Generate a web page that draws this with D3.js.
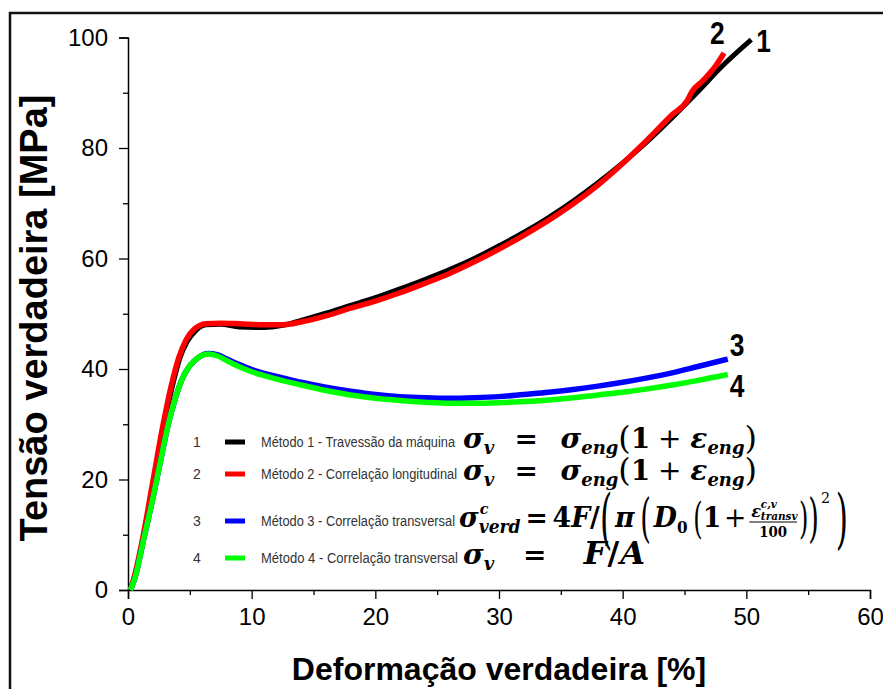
<!DOCTYPE html>
<html>
<head>
<meta charset="utf-8">
<script src="https://cdn.jsdelivr.net/npm/d3@7"></script>
<style>
  html, body { margin: 0; padding: 0; background: #fff; }
  svg { display: block; }
</style>
</head>
<body>
<svg id="chart" width="883" height="689"></svg>
<script>
// True stress–strain curves for the four measurement methods
const strain1 = [0.2,0.6,1.2,2.0,2.8,3.6,4.2,4.8,5.5,6.3,7.5,9,11,12.5,14,16,18,20,22,24,26,28,30,32,34,36,38,40,42,44,46,48,50.4];
const stress1 = [0,3,9,19,29,37,42,45,47,48,48.1,47.6,47.5,47.9,48.8,50.1,51.5,52.9,54.5,56.2,58,60,62.3,64.7,67.4,70.4,73.7,77.3,81.2,85.5,90,94.7,99.6];

const strain2 = [0.2,0.6,1.2,2.0,2.8,3.5,4.1,4.7,5.4,6.3,7.5,9,11,12.5,14,16,18,20,22,24,26,28,30,32,34,36,38,40,42,44,45.2,45.6,46.5,47.5,48.2];
const stress2 = [0,3.2,9.5,19.5,29.5,37,42,45.3,47.3,48.2,48.3,48.2,48,48,48.5,49.6,51,52.3,53.8,55.5,57.3,59.4,61.7,64.2,66.9,69.9,73.3,77.2,81.5,86,88.5,90.2,92.2,94.8,97.2];

const strain3 = [0.2,0.6,1.2,2.0,2.6,3.2,3.8,4.4,5.0,5.7,6.5,7.2,8,9,10,11,12.5,14,16,18,20,22,24,26,28,30,32,34,36,38,40,42,44,46,48.5];
const stress3 = [0,2.5,8.5,16.5,23,29.5,34.5,38.3,40.6,42.1,42.8,42.6,41.8,40.8,39.9,39.2,38.4,37.6,36.7,36,35.4,35,34.8,34.7,34.8,35,35.4,35.8,36.3,36.9,37.6,38.4,39.3,40.4,41.8];

const strain4 = [0.2,0.6,1.2,2.0,2.6,3.2,3.8,4.4,5.0,5.7,6.5,7.2,8,9,10,11,12.5,14,16,18,20,22,24,26,28,30,32,34,36,38,40,42,44,46,48.5];
const stress4 = [0,2.5,8.5,16.5,23,29.5,34.5,38.3,40.6,42.1,42.7,42.4,41.5,40.4,39.5,38.8,37.9,37.1,36.1,35.3,34.7,34.3,34,33.8,33.8,33.9,34.1,34.4,34.8,35.3,35.8,36.4,37.1,37.9,39];

const seriesIds = ["1", "2", "3", "4"];
const seriesColors = ["#000000", "#ff0000", "#0000ff", "#00ff00"];
const legendLabels = [
  "Método 1 - Travessão da máquina",
  "Método 2 - Correlação longitudinal",
  "Método 3 - Correlação transversal",
  "Método 4 - Correlação transversal"
];

const xTicks = [0, 10, 20, 30, 40, 50, 60];
const yTicks = [0, 20, 40, 60, 80, 100];
const xMinorTicks = [5, 15, 25, 35, 45, 55];
const yMinorTicks = [10, 30, 50, 70, 90];
const xTitle = "Deformação verdadeira [%]";
const yTitle = "Tensão verdadeira [MPa]";

const svg = d3.select("#chart");

// outer frame (runs off the right and bottom edges of the page)
svg.append("rect")
  .attr("x", 10).attr("y", 13).attr("width", 900).attr("height", 700)
  .attr("fill", "none").attr("stroke", "#111").attr("stroke-width", 2.5);

const x = d3.scaleLinear().domain([0, 60]).range([128, 870]);
const y = d3.scaleLinear().domain([0, 100]).range([590, 37.5]);

const sansFont = "'Liberation Sans', Arial, sans-serif";

// axes with major and minor ticks
const gx = svg.append("g").attr("transform", `translate(0,${y(0)})`);
gx.call(d3.axisBottom(x).tickValues(xTicks).tickSize(9).tickPadding(5).tickFormat(d3.format("d")));
gx.append("g").call(d3.axisBottom(x).tickValues(xMinorTicks).tickSize(5).tickFormat(""))
  .select(".domain").remove();

const gy = svg.append("g").attr("transform", `translate(${x(0)},0)`);
gy.call(d3.axisLeft(y).tickValues(yTicks).tickSize(9).tickPadding(11).tickFormat(d3.format("d")));
gy.append("g").call(d3.axisLeft(y).tickValues(yMinorTicks).tickSize(5).tickFormat(""))
  .select(".domain").remove();

svg.selectAll(".domain").attr("stroke", "#000").attr("stroke-width", 1.5);
svg.selectAll(".tick line").attr("stroke", "#000").attr("stroke-width", 1.3);
svg.selectAll(".tick text")
  .attr("font-family", sansFont).attr("font-size", 24).attr("fill", "#000");
gx.selectAll(".tick text").attr("dy", "0.88em");

// axis titles
svg.append("text")
  .attr("x", 499).attr("y", 680)
  .attr("text-anchor", "middle")
  .attr("font-family", sansFont).attr("font-weight", "bold").attr("font-size", 32)
  .text(xTitle);

svg.append("text")
  .attr("transform", `translate(47,318) rotate(-90)`)
  .attr("text-anchor", "middle")
  .attr("font-family", sansFont).attr("font-weight", "bold").attr("font-size", 38)
  .text(yTitle);

// curves
const curves = [
  strain1.map((s, i) => [s, stress1[i]]),
  strain2.map((s, i) => [s, stress2[i]]),
  strain3.map((s, i) => [s, stress3[i]]),
  strain4.map((s, i) => [s, stress4[i]])
];
const line = d3.line().x(d => x(d[0])).y(d => y(d[1])).curve(d3.curveMonotoneX);
const widths = [5, 5.5, 5.5, 5.5];
curves.forEach((c, i) => {
  svg.append("path").datum(c)
    .attr("d", line)
    .attr("fill", "none")
    .attr("stroke", seriesColors[i])
    .attr("stroke-width", widths[i])
    .attr("stroke-linejoin", "round");
});

// curve end labels
const endLabelPos = [[5, 12], [-14, -9], [2, -3], [2, 22]];
curves.forEach((c, i) => {
  const last = c[c.length - 1];
  const lx = x(last[0]) + endLabelPos[i][0], ly = y(last[1]) + endLabelPos[i][1];
  svg.append("text")
    .attr("x", lx).attr("y", ly)
    .attr("font-family", sansFont).attr("font-weight", "bold").attr("font-size", 31)
    .attr("transform-origin", `${lx} ${ly}`)
    .attr("transform", "scale(0.85,1)")
    .text(seriesIds[i]);
});

// legend
const legendRows = [442, 474, 521, 558];
const labelEnds = [455, 457, 455, 458];
const lg = svg.append("g");
legendRows.forEach((ry, i) => {
  lg.append("text").attr("x", 197).attr("y", ry + 5)
    .attr("text-anchor", "middle")
    .attr("font-family", sansFont).attr("font-size", 14).attr("fill", "#333")
    .text(seriesIds[i]);
  lg.append("rect").attr("x", 225).attr("y", ry - 2.5).attr("width", 20).attr("height", 5)
    .attr("fill", seriesColors[i]);
  lg.append("text").attr("x", 261).attr("y", ry + 5)
    .attr("font-family", sansFont).attr("font-size", 14).attr("fill", "#333")
    .attr("textLength", labelEnds[i] - 261).attr("lengthAdjust", "spacingAndGlyphs")
    .text(legendLabels[i]);
});

// formula typesetting: lays pieces left to right inside g (baseline at 0);
// "flex" gaps share whatever room is left to reach the wanted width
const mathFont = "'DejaVu Serif', 'Liberation Serif', serif";
const M = 28;   // main formula size
function typeset(g, pieces, extra) {
  let cx = 0;
  pieces.forEach(p => {
    if (p.gap !== undefined) { cx += p.gap + (p.flex ? extra * p.flex : 0); return; }
    if (p.draw) { cx = p.draw(g, cx); return; }
    const size = p.size || M;
    const t = g.append("text")
      .attr("font-family", mathFont)
      .attr("font-size", size)
      .attr("font-weight", p.weight || "bold")
      .attr("font-style", p.italic === false ? "normal" : "italic")
      .attr("fill", "#000")
      .text(p.t);
    const w = t.node().getComputedTextLength();
    const sx = p.sx || 1;
    t.attr("transform", `translate(${cx + (p.dx || 0)},${p.dy || 0}) scale(${sx},1)`);
    if (!p.noAdvance) cx += w * sx;
  });
}
function formula(x0, x1, by, pieces) {
  const g = lg.append("g");
  typeset(g, pieces, 0);
  const bb = g.node().getBBox();
  const flexTotal = d3.sum(pieces, p => p.flex || 0);
  let slack = (x1 - x0) - bb.width;
  let k = 1;
  if (slack < 0 || flexTotal === 0) { k = (x1 - x0) / bb.width; slack = 0; }
  g.selectAll("*").remove();
  typeset(g, pieces, flexTotal ? slack / flexTotal : 0);
  const bb2 = g.node().getBBox();
  g.attr("transform", `translate(${x0 - bb2.x * k},${by}) scale(${k},1)`);
  return g;
}

const sub = (t) => ({ t, size: 18, dy: 6 });
const eqEng = () => [
  { t: "σ" }, sub("v"), { gap: 6, flex: 1 }, { t: "=", italic: false }, { gap: 8, flex: 1 },
  { t: "σ" }, sub("eng"), { t: "(", italic: false, weight: "normal", size: 32, dy: 1 },
  { t: "1", italic: false }, { gap: 2, flex: 0.4 }, { t: "+", italic: false, weight: "normal" }, { gap: 3, flex: 0.4 },
  { t: "ε" }, sub("eng"), { t: ")", italic: false, weight: "normal", size: 32, dy: 1 }
];
formula(463, 757, legendRows[0] + 6, eqEng());
formula(463, 757, legendRows[1] + 6, eqEng());

// method 3: σ^c_verd = 4F / (π (D0 (1 + ε^{c,v}_{transv}/100))^2)
const fraction = {
  draw(g, fx) {
    g.append("text").attr("x", fx + 2).attr("y", -10)
      .attr("font-family", mathFont).attr("font-size", 17).attr("font-weight", "bold").attr("font-style", "italic")
      .text("ε");
    g.append("text").attr("x", fx + 12).attr("y", -19)
      .attr("font-family", mathFont).attr("font-size", 11).attr("font-weight", "bold").attr("font-style", "italic")
      .text("c,v");
    g.append("text").attr("x", fx + 12).attr("y", -7)
      .attr("font-family", mathFont).attr("font-size", 11).attr("font-weight", "bold").attr("font-style", "italic")
      .text("transv");
    g.append("line").attr("x1", fx).attr("x2", fx + 50).attr("y1", -5).attr("y2", -5)
      .attr("stroke", "#000").attr("stroke-width", 1.2);
    g.append("text").attr("x", fx + 25).attr("y", 10).attr("text-anchor", "middle")
      .attr("font-family", mathFont).attr("font-size", 14).attr("font-weight", "bold")
      .text("100");
    return fx + 52;
  }
};
formula(459, 848, legendRows[2] + 6, [
  { t: "σ" }, { t: "c", size: 15, dy: -13, noAdvance: true, dx: 1 }, { t: "verd", size: 18, dy: 6 },
  { gap: 5, flex: 1 }, { t: "=", italic: false }, { gap: 5, flex: 1 },
  { t: "4", italic: false }, { t: "F" }, { t: "/", italic: false },
  { t: "(", italic: false, weight: "normal", size: 66, sx: 0.5, dy: 14 },
  { gap: 3, flex: 0.5 }, { t: "π" }, { gap: 6, flex: 0.5 },
  { t: "(", italic: false, weight: "normal", size: 52, sx: 0.55, dy: 9 },
  { gap: 3, flex: 0.5 }, { t: "D" }, { t: "0", size: 16, dy: 6, italic: false }, { gap: 6, flex: 0.5 },
  { t: "(", italic: false, weight: "normal", size: 42, sx: 0.6, dy: 6 },
  { t: "1", italic: false }, { gap: 3, flex: 0.4 }, { t: "+", italic: false, weight: "normal" }, { gap: 3, flex: 0.4 },
  fraction,
  { t: ")", italic: false, weight: "normal", size: 42, sx: 0.6, dy: 6 },
  { t: ")", italic: false, weight: "normal", size: 52, sx: 0.55, dy: 9 },
  { gap: 2 },
  { t: "2", italic: false, weight: "normal", size: 15, dy: -24 },
  { gap: 6, flex: 0.5 },
  { t: ")", italic: false, weight: "normal", size: 66, sx: 0.5, dy: 14 }
]);

// method 4
formula(463, 645, legendRows[3] + 6, [
  { t: "σ" }, sub("v"), { gap: 6, flex: 1 }, { t: "=", italic: false }, { gap: 10, flex: 1.2 },
  { t: "F", size: 32 }, { gap: 1 }, { t: "/", italic: false, size: 32 }, { gap: 1 }, { t: "A", size: 32 }
]);
</script>
</body>
</html>
